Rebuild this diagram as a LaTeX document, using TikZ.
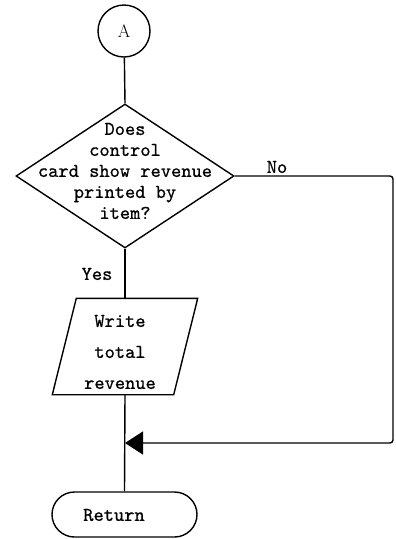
\documentclass[tikz,border=0pt]{standalone}
\usepackage{fontspec}
\setmonofont{lmmono10-regular.otf}[FakeBold=0.7]
\usetikzlibrary{shapes.geometric,shapes.misc,arrows.meta}
\begin{document}
\begin{tikzpicture}[x=1pt,y=-1pt,line width=1.4pt,
  shapebox/.style={draw, inner sep=0pt},
  lbl/.style={font=\ttfamily\fontsize{19.5}{21}\selectfont, inner sep=0pt},
  head/.style={-{Triangle[length=18pt,width=23pt]}}]
\useasboundingbox (0,0) rectangle (396,539);

% connector circle
\node[shapebox, circle, minimum size=52pt,
      font=\rmfamily\fontsize{18}{18}\selectfont] (conn) at (124,31) {A};

% decision
\node[shapebox, diamond, minimum width=218pt, minimum height=144pt] (dec) at (125,176) {};
\node[lbl, align=center] (dectext) at (125,171) {Does\\control\\card show revenue\\printed by\\item?};
\node[lbl] (nolbl) at (277,167) {No};
\node[lbl] (yeslbl) at (97,274) {Yes};

% output (parallelogram drawn over the frame of an empty box)
\node[inner sep=0pt, minimum width=144pt, minimum height=95pt] (io) at (125,346.5) {};
\draw ([xshift=24pt]io.north west) -- (io.north east)
      -- ([xshift=-24pt]io.south east) -- (io.south west) -- cycle;
\node[lbl, align=center, font=\ttfamily\fontsize{19.5}{31}\selectfont] (iotext) at (120,352) {Write\\total\\revenue};

% terminal
\node[shapebox, rounded rectangle, minimum width=145pt, minimum height=45pt] (ret) at (124.5,514.5) {};
\node[lbl] (rettext) at (114,515) {Return};

% connectors
\coordinate (rtop) at (393,176);
\coordinate (rbot) at (393,443);
\coordinate (join) at (125,443);
\draw (conn) -- (dec.north);
\draw (dec.south) -- (io.north);
\draw (io.south) -- (ret.north);
\draw[head, rounded corners=3pt] (dec.east) -- (rtop) -- (rbot) -- (join);
\end{tikzpicture}
\end{document}
